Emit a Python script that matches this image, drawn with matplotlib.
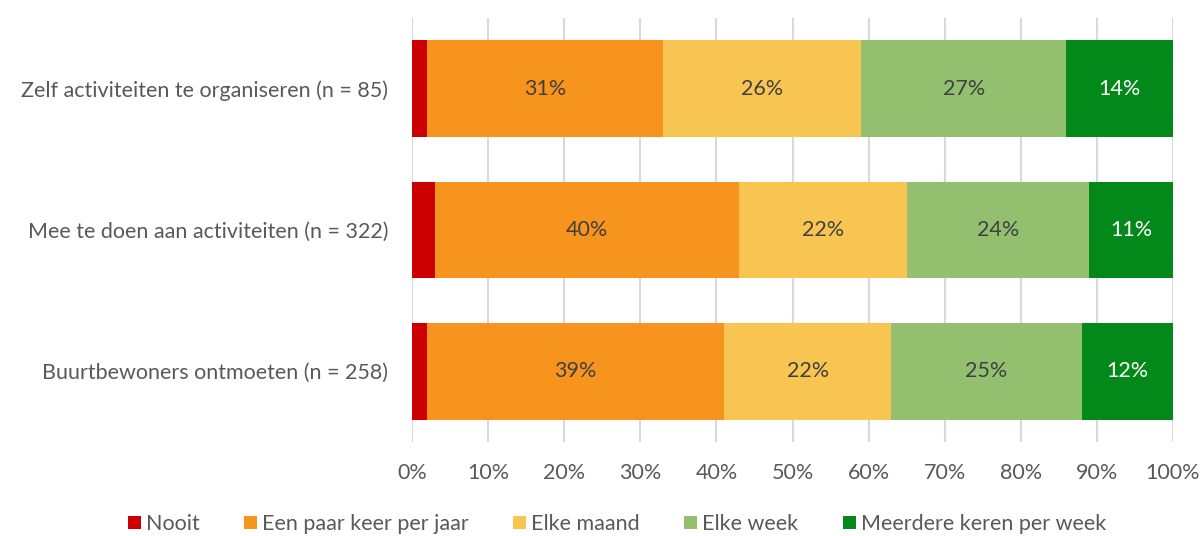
import matplotlib
matplotlib.use("Agg")
import matplotlib.pyplot as plt
import numpy as np
from matplotlib.patches import Patch

plt.rcParams['font.family'] = ['Lato', 'DejaVu Sans']

categories = ["Zelf activiteiten te organiseren (n = 85)",
              "Mee te doen aan activiteiten (n = 322)",
              "Buurtbewoners ontmoeten (n = 258)"]
series = ["Nooit", "Een paar keer per jaar", "Elke maand", "Elke week",
          "Meerdere keren per week"]
nooit = [2, 3, 2]
paar_keer = [31, 40, 39]
maand = [26, 22, 22]
week = [27, 24, 25]
meerdere = [14, 11, 12]
colors = ["#CC0000", "#F7941E", "#F9C552", "#92C06E", "#03891A"]
label_colors = [None, "#404040", "#404040", "#404040", "white"]

values = [nooit, paar_keer, maand, week, meerdere]

fig = plt.figure(figsize=(12.01, 5.36), dpi=100)
ax = fig.add_axes([412 / 1201, 1 - 442 / 536, 761 / 1201, 424 / 536])

y = np.arange(len(categories))
left = np.zeros(len(categories))
for vals, col, lcol in zip(values, colors, label_colors):
    vals = np.array(vals, dtype=float)
    ax.barh(y, vals, left=left, height=0.685, color=col, zorder=3)
    if lcol is not None:
        for yi, v, l in zip(y, vals, left):
            ax.text(l + v / 2, yi, f"{int(v)}%", ha='center', va='center',
                    fontsize=15.5, color=lcol, zorder=4)
    left += vals

ax.set_xlim(0, 100)
ax.set_ylim(len(categories) - 0.5, -0.5)
ax.set_xticks(np.arange(0, 101, 10))
ax.set_xticklabels([f"{t}%" for t in range(0, 101, 10)])
ax.set_yticks(y)
ax.set_yticklabels(categories)
ax.tick_params(axis='both', length=0, labelsize=15.5, colors='#595959')
ax.tick_params(axis='x', pad=15)
ax.tick_params(axis='y', pad=17)
ax.grid(axis='x', color='#D9D9D9', linewidth=1.5, zorder=0)
for s in ax.spines.values():
    s.set_visible(False)

handles = [Patch(facecolor=c, label=s) for c, s in zip(colors, series)]
fig.legend(handles=handles, loc='center', bbox_to_anchor=(617 / 1201, 1 - 524 / 536),
           ncol=5, frameon=False, fontsize=15.5, handlelength=0.6, handleheight=0.6,
           handletextpad=0.25, columnspacing=2.05, labelcolor='#595959')

fig.savefig("out.png", dpi=100)
